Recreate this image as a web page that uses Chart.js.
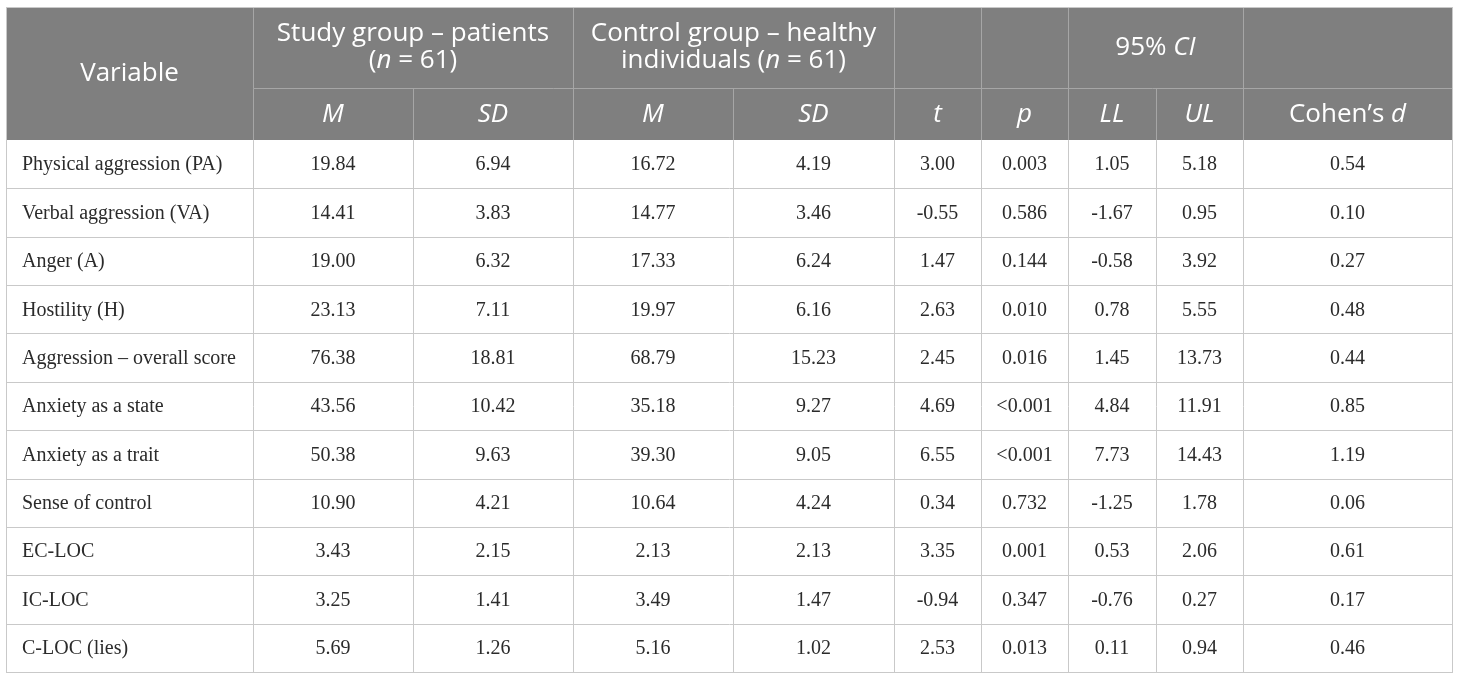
<!DOCTYPE html>
<html>
<head>
<meta charset="utf-8">
<title>Study vs control group table</title>
<script src="https://cdn.jsdelivr.net/npm/chart.js@4.4.1/dist/chart.umd.min.js"></script>
<style>
  html, body { margin: 0; padding: 0; background: #ffffff; }
  #wrap { width: 1460px; height: 680px; position: relative; }
</style>
</head>
<body>
<div id="wrap"><canvas id="tableChart"></canvas></div>
<script>
// 1. DATA (one entry per table row)
// ------------------------------------------------------------------
const variables = [
    'Physical aggression (PA)',
    'Verbal aggression (VA)',
    'Anger (A)',
    'Hostility (H)',
    'Aggression \u2013 overall score',
    'Anxiety as a state',
    'Anxiety as a trait',
    'Sense of control',
    'EC-LOC',
    'IC-LOC',
    'C-LOC (lies)'
];
const studyM    = [19.84, 14.41, 19.00, 23.13, 76.38, 43.56, 50.38, 10.90, 3.43, 3.25, 5.69];
const studySD   = [6.94, 3.83, 6.32, 7.11, 18.81, 10.42, 9.63, 4.21, 2.15, 1.41, 1.26];
const controlM  = [16.72, 14.77, 17.33, 19.97, 68.79, 35.18, 39.30, 10.64, 2.13, 3.49, 5.16];
const controlSD = [4.19, 3.46, 6.24, 6.16, 15.23, 9.27, 9.05, 4.24, 2.13, 1.47, 1.02];
const tValues   = [3.00, -0.55, 1.47, 2.63, 2.45, 4.69, 6.55, 0.34, 3.35, -0.94, 2.53];
const pValues   = ['0.003', '0.586', '0.144', '0.010', '0.016', '<0.001', '<0.001', '0.732', '0.001', '0.347', '0.013'];
const ciLower   = [1.05, -1.67, -0.58, 0.78, 1.45, 4.84, 7.73, -1.25, 0.53, -0.76, 0.11];
const ciUpper   = [5.18, 0.95, 3.92, 5.55, 13.73, 11.91, 14.43, 1.78, 2.06, 0.27, 0.94];
const cohensD   = [0.54, 0.10, 0.27, 0.48, 0.44, 0.85, 1.19, 0.06, 0.61, 0.17, 0.46];

// Header labels: each label is a list of [text, italic] runs
const variableHeader = [['Variable', false]];
const studyHeader    = [[['Study group \u2013 patients', false]], [['(', false], ['n', true], [' = 61)', false]]];
const controlHeader  = [[['Control group \u2013 healthy', false]], [['individuals (', false], ['n', true], [' = 61)', false]]];
const ciHeader       = [['95% ', false], ['CI', true]];
const subHeaders = [
    [['M', true]], [['SD', true]],
    [['M', true]], [['SD', true]],
    [['t', true]], [['p', true]],
    [['LL', true]], [['UL', true]],
    [['Cohen\u2019s ', false], ['d', true]]
];

// 2. LAYOUT (reference pixel units, mapped through the chart scales)
// ------------------------------------------------------------------
const COL_EDGES = [6, 253, 413, 573, 733, 894, 981, 1068, 1156, 1243, 1452];
const TABLE_TOP = 7;
const HEAD_SPLIT = 88;
const BODY_TOP = 140;
const TABLE_BOTTOM = 672;

const HEAD_BG = '#7f7f7f';
const HEAD_LINE = '#a6a6a6';
const BODY_LINE = '#c9c9c9';
const BODY_TEXT = '#2b2b2b';
const HEAD_FONT = '"Open Sans", "DejaVu Sans", sans-serif';
const BODY_FONT = '"Liberation Serif", "DejaVu Serif", serif';

// 3. HELPERS
// ------------------------------------------------------------------
function fontFor(italic, size, family) {
    return (italic ? 'italic ' : '') + size + 'px ' + family;
}

// draw a list of runs centred on (cx, cy)
function drawRuns(ctx, runs, cx, cy, size, family, color, align) {
    ctx.textBaseline = 'middle';
    ctx.textAlign = 'left';
    ctx.fillStyle = color;
    let total = 0;
    const widths = runs.map(r => {
        ctx.font = fontFor(r[1], size, family);
        const w = ctx.measureText(r[0]).width;
        total += w;
        return w;
    });
    let x = align === 'left' ? cx : cx - total / 2;
    runs.forEach((r, i) => {
        ctx.font = fontFor(r[1], size, family);
        ctx.fillText(r[0], x, cy);
        x += widths[i];
    });
}

function line(ctx, x1, y1, x2, y2, color) {
    ctx.strokeStyle = color;
    ctx.lineWidth = 1;
    ctx.beginPath();
    ctx.moveTo(Math.round(x1) + 0.5, Math.round(y1) + 0.5);
    ctx.lineTo(Math.round(x2) + 0.5, Math.round(y2) + 0.5);
    ctx.stroke();
}

// 4. TABLE PLUGIN
// ------------------------------------------------------------------
const tablePlugin = {
    id: 'tableGrid',
    afterDraw(chart) {
        const ctx = chart.ctx;
        const sx = v => chart.scales.x.getPixelForValue(v);
        const sy = v => chart.scales.y.getPixelForValue(v);
        const colMid = i => (sx(COL_EDGES[i]) + sx(COL_EDGES[i + 1])) / 2;
        const spanMid = (a, b) => (sx(COL_EDGES[a]) + sx(COL_EDGES[b])) / 2;

        const rowCount = variables.length;
        const rowH = (TABLE_BOTTOM - BODY_TOP) / rowCount;
        const rowEdge = r => sy(BODY_TOP + r * rowH);

        ctx.save();

        // A. Header background
        ctx.fillStyle = HEAD_BG;
        ctx.fillRect(sx(COL_EDGES[0]), sy(TABLE_TOP), sx(COL_EDGES[10]) - sx(COL_EDGES[0]), sy(BODY_TOP) - sy(TABLE_TOP));

        // B. Header grid
        [1, 3, 5, 6, 7, 9].forEach(i => line(ctx, sx(COL_EDGES[i]), sy(TABLE_TOP), sx(COL_EDGES[i]), sy(HEAD_SPLIT), HEAD_LINE));
        for (let i = 1; i < 10; i++) line(ctx, sx(COL_EDGES[i]), sy(HEAD_SPLIT), sx(COL_EDGES[i]), sy(BODY_TOP), HEAD_LINE);
        line(ctx, sx(COL_EDGES[1]), sy(HEAD_SPLIT), sx(COL_EDGES[10]), sy(HEAD_SPLIT), HEAD_LINE);

        // C. Body grid
        for (let r = 1; r < rowCount; r++) line(ctx, sx(COL_EDGES[0]), rowEdge(r), sx(COL_EDGES[10]), rowEdge(r), BODY_LINE);
        for (let i = 1; i < 10; i++) line(ctx, sx(COL_EDGES[i]), sy(BODY_TOP), sx(COL_EDGES[i]), sy(TABLE_BOTTOM), BODY_LINE);
        ctx.strokeStyle = BODY_LINE;
        ctx.strokeRect(Math.round(sx(COL_EDGES[0])) + 0.5, Math.round(sy(TABLE_TOP)) + 0.5,
            Math.round(sx(COL_EDGES[10]) - sx(COL_EDGES[0])), Math.round(sy(TABLE_BOTTOM) - sy(TABLE_TOP)));

        // D. Header text
        const hs = 26;
        drawRuns(ctx, variableHeader, colMid(0), sy(74), hs, HEAD_FONT, '#ffffff');
        drawRuns(ctx, studyHeader[0], spanMid(1, 3), sy(34), hs, HEAD_FONT, '#ffffff');
        drawRuns(ctx, studyHeader[1], spanMid(1, 3), sy(61), hs, HEAD_FONT, '#ffffff');
        drawRuns(ctx, controlHeader[0], spanMid(3, 5), sy(34), hs, HEAD_FONT, '#ffffff');
        drawRuns(ctx, controlHeader[1], spanMid(3, 5), sy(61), hs, HEAD_FONT, '#ffffff');
        drawRuns(ctx, ciHeader, spanMid(7, 9), sy(48), hs, HEAD_FONT, '#ffffff');
        subHeaders.forEach((runs, i) => drawRuns(ctx, runs, colMid(i + 1), sy(115), hs, HEAD_FONT, '#ffffff'));

        // E. Body text
        const bs = 20;
        const f2 = v => v.toFixed(2);
        for (let r = 0; r < rowCount; r++) {
            const cy = (rowEdge(r) + rowEdge(r + 1)) / 2 + 1;
            drawRuns(ctx, [[variables[r], false]], sx(22), cy, bs, BODY_FONT, BODY_TEXT, 'left');
            const cells = [f2(studyM[r]), f2(studySD[r]), f2(controlM[r]), f2(controlSD[r]),
                f2(tValues[r]), pValues[r], f2(ciLower[r]), f2(ciUpper[r]), f2(cohensD[r])];
            cells.forEach((txt, i) => drawRuns(ctx, [[txt, false]], colMid(i + 1), cy, bs, BODY_FONT, BODY_TEXT));
        }

        ctx.restore();
    }
};

// 5. CHART INIT
// ------------------------------------------------------------------
const chartCtx = document.getElementById('tableChart').getContext('2d');
const tableChart = new Chart(chartCtx, {
    type: 'scatter',
    data: { datasets: [{ data: [], pointRadius: 0 }] },
    options: {
        responsive: true,
        maintainAspectRatio: false,
        animation: false,
        events: [],
        layout: { padding: 0 },
        plugins: { legend: { display: false }, tooltip: { enabled: false } },
        scales: {
            x: { type: 'linear', min: 0, max: 1460, display: false },
            y: { type: 'linear', min: 0, max: 680, reverse: true, display: false }
        }
    },
    plugins: [tablePlugin]
});
</script>
</body>
</html>
